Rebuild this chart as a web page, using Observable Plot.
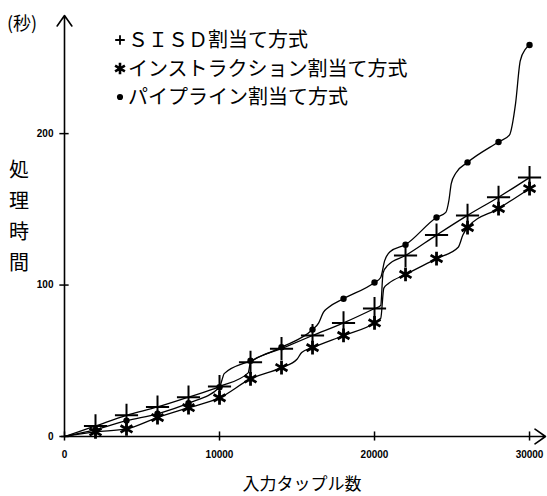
<!DOCTYPE html>
<html><head><meta charset="utf-8">
<script src="https://cdn.jsdelivr.net/npm/d3@7"></script>
<script src="https://cdn.jsdelivr.net/npm/@observablehq/plot@0.6"></script>
<style>body{margin:0;background:#fff}</style>
</head><body><div id="chart"></div>
<script>
// marker positions (入力タップル数)
const markerX = [2000,4000,6000,8000,10000,12000,14000,16000,18000,20000,22000,24000,26000,28000,30000];
// 処理時間 (秒) at the markers
const sisdY  = [7,14,19.5,26,33,49,58,66.7,75,84.5,119.5,133,146,158,171];
const instrY = [3,5,12.5,19,25.5,38,45.5,58.7,66.7,75,107,117.5,138,150.5,163.7];
const pipeY  = [4.5,10.5,15,22,32.5,50,59,70.6,91,101.7,126.7,144.6,181,194.5,258.5];
// drawn line vertices (including the steps)
const sisdPath = [[0,0],[2000,7],[4000,14],[6000,19.5],[8000,26],[10000,33],[11850,42],[12000,49],[14000,58],[16000,66.7],[18000,75],[20000,84.5],[20400,86.5],[20550,108],[20850,113],[22000,119.5],[24000,133],[26000,146],[28000,158],[30000,171]];
const instrPath = [[0,0],[2000,3],[4000,5],[6000,12.5],[8000,19],[10000,25.5],[12000,38],[14000,45.5],[15000,51],[15300,55.5],[16000,58.7],[18000,66.7],[20000,75],[20400,78],[20600,98],[20900,101],[22000,107],[24000,117.5],[25400,125],[25700,133],[26000,138],[28000,150.5],[30000,163.7]];
const pipePath = [[0,0],[2000,4.5],[4000,10.5],[6000,15],[8000,22],[10000,32.5],[10150,37],[10300,41.5],[12000,50],[14000,59],[16000,70.6],[16400,75],[16700,82],[17000,85],[18000,91],[20000,101.7],[20400,105],[20650,116],[21000,122],[22000,126.7],[24000,144.6],[24600,148],[24800,156],[24950,167],[25250,174],[26000,181],[28000,194.5],[28700,199],[29100,220],[29400,248],[29750,256],[30000,258.5]];
const xTicks = [0,10000,20000,30000];
const yTicks = [0,100,200];
const xMax = 31030, yMax = 278;
const legendLabels = ["ＳＩＳＤ割当て方式","インストラクション割当て方式","パイプライン割当て方式"];

const lineData = [
  ...sisdPath.map(([x,y])=>({x,y,s:"sisd"})),
  ...instrPath.map(([x,y])=>({x,y,s:"instr"})),
  ...pipePath.map(([x,y])=>({x,y,s:"pipe"}))
];
const sisdPts = markerX.map((x,i)=>({x,y:sisdY[i]}));
const instrPts = markerX.map((x,i)=>({x,y:instrY[i]}));
const pipePts = markerX.map((x,i)=>({x,y:pipeY[i]}));

const svg = Plot.plot({
  width:547, height:496,
  marginLeft:64, marginRight:2, marginTop:15, marginBottom:60,
  x:{domain:[0,xMax], label:null}, y:{domain:[0,yMax], label:null},
  style:{fontFamily:"Liberation Sans", background:"white", color:"black"},
  marks:[
    Plot.arrow([0],{x1:0,y1:0,x2:0,y2:yMax, stroke:"black", strokeWidth:1.6, headLength:12, headAngle:70}),
    Plot.arrow([0],{x1:-200,y1:0,x2:xMax,y2:0, stroke:"black", strokeWidth:1.6, headLength:12, headAngle:70}),
    Plot.ruleX(xTicks,{x:d=>d, y1:-3, y2:3, stroke:"black", strokeWidth:1.5}),
    Plot.ruleY(yTicks,{y:d=>d, x1:-300, x2:300, stroke:"black", strokeWidth:1.5}),
    Plot.axisX(xTicks,{tickSize:0, tickPadding:14, tickFormat:d=>String(d), fontWeight:"bold", fontSize:10, label:null}),
    Plot.axisY(yTicks,{tickSize:0, tickPadding:11, tickFormat:d=>String(d), fontWeight:"bold", fontSize:10, label:null}),
    Plot.line(lineData,{x:"x", y:"y", z:"s", curve:"monotone-x", stroke:"black", strokeWidth:1.3}),
    Plot.dot(sisdPts,{x:"x", y:"y", symbol:"plus", r:7.5, stroke:"black", strokeWidth:2}),
    Plot.dot(instrPts,{x:"x", y:"y", symbol:"asterisk", r:6.5, stroke:"black", strokeWidth:2.8}),
    Plot.dot(pipePts,{x:"x", y:"y", r:3.2, fill:"black", stroke:"none"})
  ]
});

const s = d3.select(svg);
const cjk = "'Noto Sans CJK JP', sans-serif";
s.append("text").attr("x",7).attr("y",30).attr("text-anchor","start").attr("font-family",cjk).attr("font-size",18).attr("fill","black").text("(秒)");
["処","理","時","間"].forEach((c,i)=>{
  s.append("text").attr("x",19).attr("y",177+i*31).attr("text-anchor","middle")
   .attr("font-family",cjk).attr("font-size",20).attr("fill","black").text(c);
});
s.append("text").attr("x",302).attr("y",490).attr("text-anchor","middle")
 .attr("font-family",cjk).attr("font-size",17).attr("fill","black").text("入力タップル数");
const legSyms = [d3.symbolPlus, d3.symbolAsterisk, d3.symbolCircle];
const legSize = [32, 90, 30];
legendLabels.forEach((t,i)=>{
  const cy = 40 + i*28.5;
  const p = s.append("path").attr("transform",`translate(120,${cy})`).attr("d",d3.symbol(legSyms[i],legSize[i])());
  if(i===2) p.attr("fill","black"); else p.attr("fill","none").attr("stroke","black").attr("stroke-width",i===1?2.6:1.8);
  s.append("text").attr("x",128).attr("y",cy+7).attr("text-anchor","start").attr("font-family",cjk).attr("font-size",20).attr("fill","black").text(t);
});
document.getElementById("chart").appendChild(svg);
</script>
</body></html>
